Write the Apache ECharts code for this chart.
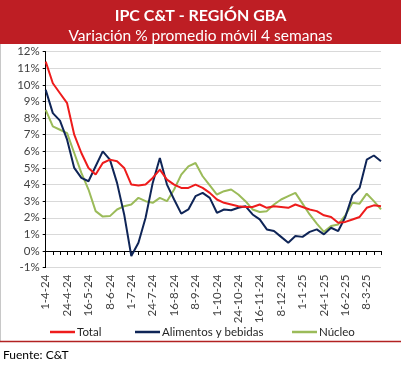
<!DOCTYPE html>
<html><head><meta charset="utf-8">
<script src="https://cdn.jsdelivr.net/npm/echarts@6/dist/echarts.min.js"></script>
<style>html,body{margin:0;padding:0;background:#fff}#c{width:401px;height:369px}</style>
</head><body><div id="c"></div>
<script>
const dates = ['1-4-24','8-4-24','16-4-24','24-4-24','1-5-24','8-5-24','16-5-24','24-5-24','1-6-24','8-6-24','16-6-24','24-6-24',
 '1-7-24','8-7-24','16-7-24','24-7-24','1-8-24','8-8-24','16-8-24','24-8-24','1-9-24','8-9-24','16-9-24','24-9-24',
 '1-10-24','8-10-24','16-10-24','24-10-24','1-11-24','8-11-24','16-11-24','24-11-24','1-12-24','8-12-24','16-12-24','24-12-24',
 '1-1-25','8-1-25','16-1-25','24-1-25','1-2-25','8-2-25','16-2-25','24-2-25','1-3-25','8-3-25','16-3-25','24-3-25'];
const total = [11.4,10.1,9.5,8.9,7.0,5.9,5.0,4.6,5.3,5.5,5.4,5.0,
 4.0,3.95,4.0,4.4,4.9,4.3,4.0,3.8,3.8,4.0,3.8,3.5,
 3.1,2.9,2.8,2.7,2.65,2.65,2.8,2.6,2.7,2.65,2.6,2.8,
 2.65,2.5,2.4,2.15,2.05,1.7,1.75,1.9,2.05,2.6,2.75,2.7];
const alimentos = [9.7,8.3,7.85,6.7,5.0,4.4,4.2,5.1,6.0,5.5,4.1,2.2,
 -0.3,0.5,2.0,4.1,5.6,4.0,3.1,2.25,2.5,3.3,3.5,3.2,
 2.3,2.5,2.45,2.6,2.7,2.2,1.9,1.3,1.2,0.85,0.5,0.9,
 0.85,1.15,1.3,1.0,1.4,1.2,2.05,3.35,3.8,5.5,5.75,5.4];
const nucleo = [8.5,7.5,7.3,7.1,5.9,4.7,3.7,2.4,2.07,2.1,2.5,2.7,
 2.8,3.2,3.0,2.9,3.2,3.0,3.7,4.6,5.1,5.3,4.5,3.95,
 3.4,3.6,3.7,3.4,3.0,2.5,2.35,2.4,2.8,3.1,3.3,3.5,
 2.85,2.2,1.65,1.15,1.5,1.6,2.15,2.9,2.85,3.45,3.0,2.5];
const names = ['Total','Alimentos y bebidas','Núcleo'];
const colors = ['#EE1C1C','#0F2557','#9BBB59'];
const F = 'Lato, "Noto Sans", sans-serif';
const chart = echarts.init(document.getElementById('c'), null, {renderer:'canvas'});
const legendLefts = [45, 130, 287];
chart.setOption({
  animation:false,
  backgroundColor:'#fff',
  graphic:[
    {type:'rect', shape:{x:0,y:0,width:401,height:44}, style:{fill:'#BE1E24'}, z:-1},
    {type:'line', shape:{x1:0.5,y1:44,x2:0.5,y2:341}, style:{stroke:'#C8C8C8', lineWidth:1}},
    {type:'line', shape:{x1:0,y1:341.5,x2:401,y2:341.5}, style:{stroke:'#B22222', lineWidth:1.5}},
    {type:'text', left:3, top:349, style:{text:'Fuente: C&T', font:'12px '+F, fill:'#000'}}
  ],
  title:[
    {text:'IPC C&T - REGIÓN GBA', left:'center', top:3, textStyle:{color:'#fff', fontFamily:F, fontWeight:'bold', fontSize:16}},
    {text:'Variación % promedio móvil 4 semanas', left:'center', top:23, textStyle:{color:'#fff', fontFamily:F, fontWeight:'normal', fontSize:15.5}}
  ],
  legend: names.map((n,i)=>({data:[n], left:legendLefts[i], top:321, icon:'rect', itemWidth:25, itemHeight:2.5, itemGap:0,
     textStyle:{fontFamily:F, fontSize:11.5, color:'#262626', padding:[0,0,0,-3]}})),
  grid:{left:45.7, right:20, top:51.7, bottom:101.4, containLabel:false},
  xAxis:[
    {type:'category', data:dates, boundaryGap:false, position:'bottom',
     axisLine:{show:false, onZero:false}, axisTick:{show:false},
     axisLabel:{interval:2, rotate:90, margin:7, fontFamily:F, fontSize:11.5, color:'#404040'}},
    {type:'category', data:dates, boundaryGap:false, position:'top',
     axisLine:{show:true, onZero:true, lineStyle:{color:'#000', width:1}},
     axisTick:{show:true, inside:true, interval:0, length:4, lineStyle:{color:'#000'}},
     axisLabel:{show:false}}
  ],
  yAxis:{type:'value', min:-1, max:12, interval:1,
    axisLine:{show:true, lineStyle:{color:'#000'}},
    axisTick:{show:true, length:3, lineStyle:{color:'#000'}},
    splitLine:{lineStyle:{color:'#D9D9D9', width:1}},
    axisLabel:{formatter:'{value}%', fontFamily:F, fontSize:11.5, color:'#404040', margin:6}},
  series:[total, alimentos, nucleo].map((d,i)=>({
    name:names[i], type:'line', data:d, xAxisIndex:0, showSymbol:false, symbol:'none',
    lineStyle:{color:colors[i], width:2}, itemStyle:{color:colors[i]}, z:3-i+2
  }))
});
</script></body></html>
